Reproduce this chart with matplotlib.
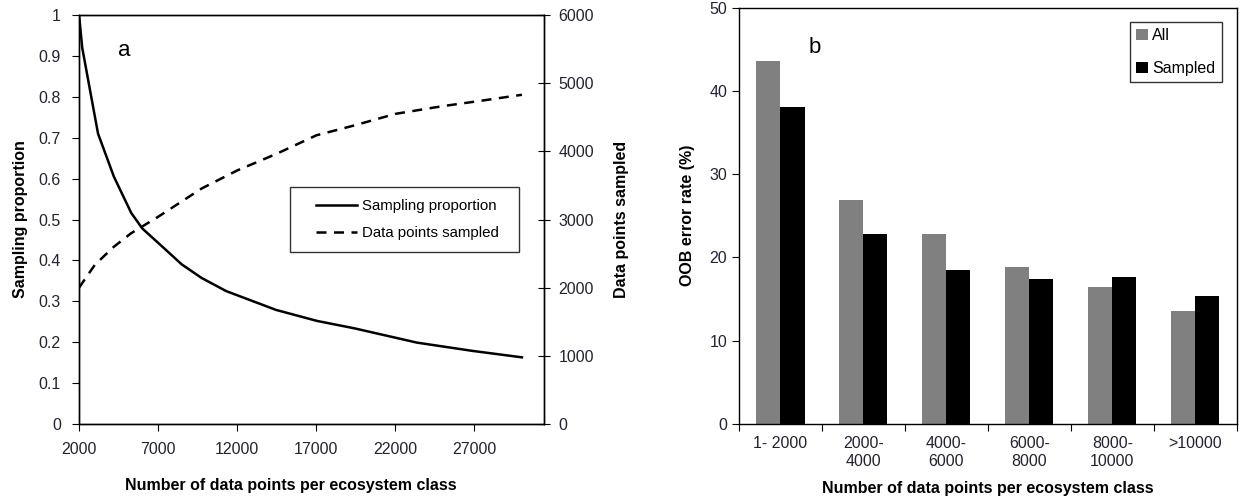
import numpy as np
import matplotlib
matplotlib.use("Agg")
import matplotlib.pyplot as plt
from matplotlib.legend_handler import HandlerLine2D

# ---- panel a: sampling curves ----
class_size = [2000, 2200, 3200, 4200, 5300, 6000, 7000, 8500, 9750, 11300,
              14450, 17050, 19400, 23360, 26830, 30000]
sampling_prop = [1.0, 0.92, 0.71, 0.605, 0.516, 0.478, 0.443, 0.39, 0.357, 0.325,
                 0.279, 0.252, 0.234, 0.199, 0.179, 0.163]

sampled_x = [2000, 3000, 4200, 5300, 7000, 9750, 12000, 14500, 17000,
             19400, 22000, 24900, 27500, 30000]
sampled_pts = [2000, 2336, 2600, 2800, 3040, 3455, 3720, 3965, 4235,
               4380, 4550, 4660, 4745, 4830]

# ---- panel b: OOB error ----
bins = ["1- 2000", "2000-\n4000", "4000-\n6000", "6000-\n8000", "8000-\n10000", ">10000"]
oob_all = [43.6, 26.9, 22.8, 18.9, 16.4, 13.6]
oob_sampled = [38.1, 22.8, 18.5, 17.4, 17.6, 15.4]

plt.rcParams["font.family"] = ["Liberation Sans", "DejaVu Sans"]
tick_col = "#222233"

fig = plt.figure(figsize=(12.43, 5.01), dpi=100)

# =========================
# PANEL A
# =========================
ax1 = fig.add_axes([0.0636, 0.1537, 0.3741, 0.8163])
ax1.plot(class_size, sampling_prop, color="black", lw=1.8, label="Sampling proportion")
ax1.set_xlim(2000, 31400)
ax1.set_ylim(0, 1)
ax1.set_xticks([2000, 7000, 12000, 17000, 22000, 27000])
ax1.set_yticks(np.arange(0, 1.01, 0.1))
ax1.set_yticklabels(["0", "0.1", "0.2", "0.3", "0.4", "0.5", "0.6", "0.7", "0.8", "0.9", "1"])
ax1.tick_params(direction="out", length=5, labelsize=11.5, colors="black", labelcolor=tick_col)
ax1.tick_params(axis="y", pad=8)
ax1.tick_params(axis="x", pad=8)
ax1.set_ylabel("Sampling proportion", fontweight="bold", fontsize=11.5, labelpad=8)
ax1.set_xlabel("Number of data points per ecosystem class", fontweight="bold", fontsize=11.5, labelpad=13)
ax1.xaxis.set_label_coords(0.455, -0.133)
ax1.text(0.083, 0.9, "a", transform=ax1.transAxes, fontsize=16)

ax2 = ax1.twinx()
ax2.plot(sampled_x, sampled_pts, color="black", lw=1.8, ls=(0, (4, 3)), label="Data points sampled")
ax2.set_ylim(0, 6000)
ax2.set_yticks(range(0, 6001, 1000))
ax2.tick_params(direction="inout", length=9, labelsize=11.5, labelcolor=tick_col, pad=6)
ax2.set_ylabel("Data points sampled", fontweight="bold", fontsize=11.5, labelpad=14)

# legend box: wider padding on the left like the original
h1, l1 = ax1.get_legend_handles_labels()
h2, l2 = ax2.get_legend_handles_labels()
shifted = HandlerLine2D(xpad=0.95)
leg = ax1.legend(h1 + h2, l1 + l2, loc="upper left", bbox_to_anchor=(0.453, 0.419, 0.493, 0.16),
                 mode="expand", fontsize=10.8, frameon=True, fancybox=False, edgecolor="black",
                 handlelength=3.7, handletextpad=0.35, borderpad=0.8, labelspacing=0.85,
                 borderaxespad=0, handler_map={h: shifted for h in h1 + h2})
leg.get_frame().set_linewidth(1.0)

for ax in (ax1, ax2):
    for s in ax.spines.values():
        s.set_linewidth(1.0)

# =========================
# PANEL B
# =========================
ax3 = fig.add_axes([0.5945, 0.1537, 0.4005, 0.8313])
x = np.arange(len(bins))
w = 0.29
ax3.bar(x - w / 2, oob_all, width=w, color="#808080", label="All")
ax3.bar(x + w / 2, oob_sampled, width=w, color="black", label="Sampled")
ax3.set_xlim(-0.5, len(bins) - 0.5)
ax3.set_ylim(0, 50)
ax3.set_yticks(range(0, 51, 10))
ax3.set_xticks(np.arange(-0.5, len(bins), 1.0))
ax3.set_xticklabels([])
ax3.set_xticks(x, minor=True)
ax3.set_xticklabels(bins, minor=True, fontsize=11.5, color=tick_col)
ax3.tick_params(axis="x", which="major", direction="out", length=5)
ax3.tick_params(axis="x", which="minor", length=0, pad=9)
ax3.tick_params(axis="y", direction="out", length=5, labelsize=11.5, labelcolor=tick_col)
ax3.set_ylabel("OOB error rate (%)", fontweight="bold", fontsize=11.5, labelpad=10)
ax3.set_xlabel("Number of data points per ecosystem class", fontweight="bold", fontsize=11.5, labelpad=9)
ax3.text(0.14, 0.89, "b", transform=ax3.transAxes, fontsize=16)
leg3 = ax3.legend(loc="upper right", bbox_to_anchor=(0.97, 0.965), fontsize=11.5,
                  frameon=True, fancybox=False, edgecolor="black",
                  handlelength=0.7, handleheight=0.7, handletextpad=0.3,
                  borderpad=0.4, labelspacing=1.1, borderaxespad=0)
leg3.get_frame().set_linewidth(1.0)
for s in ax3.spines.values():
    s.set_linewidth(1.0)

plt.savefig("out.png", dpi=100)
plt.close()
